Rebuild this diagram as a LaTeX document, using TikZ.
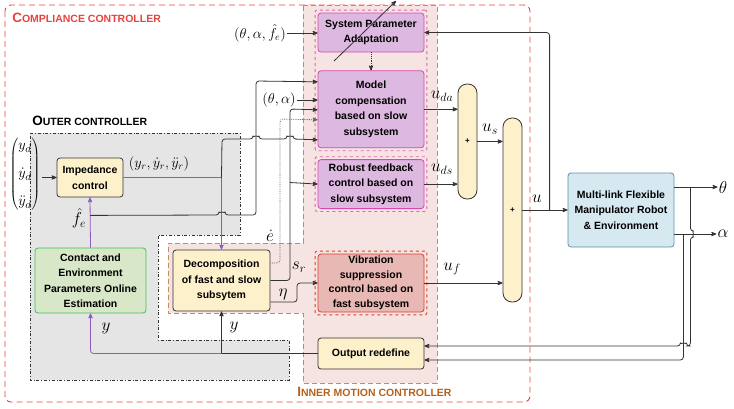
\documentclass[tikz,border=0pt]{standalone}
\usepackage{fontspec}
\setmainfont{Liberation Sans}
\usetikzlibrary{arrows,positioning,calc,fit}

\definecolor{complred}{HTML}{E5433B}
\definecolor{innerbrown}{HTML}{B4621C}
\definecolor{innerdash}{HTML}{C98A5C}
\definecolor{innerfill}{HTML}{F6E4E2}
\definecolor{outerfill}{HTML}{E5E5E5}
\definecolor{slowfill}{HTML}{DDB8E0}
\definecolor{slowline}{HTML}{D64AAE}
\definecolor{fastfill}{HTML}{E8B8B4}
\definecolor{fastline}{HTML}{D9412F}
\definecolor{yelfill}{HTML}{FDF1CC}
\definecolor{estfill}{HTML}{D9E7C9}
\definecolor{estline}{HTML}{3CC35A}
\definecolor{robfill}{HTML}{D6E9F0}
\definecolor{robline}{HTML}{5E8FA5}
\definecolor{sigpurple}{HTML}{8F5BC2}
\definecolor{wire}{HTML}{333333}

\newcommand{\capsname}[2]{{\fontsize{13.5}{13.5}\selectfont #1}{\fontsize{10.5}{10.5}\selectfont #2}}

\begin{document}
\begin{tikzpicture}[>=stealth',x=1pt,y=-1pt,semithick]
\tikzstyle{blk} = [rectangle,rounded corners=3pt,line width=0.8pt,align=center,inner sep=1pt,font=\bfseries\fontsize{10.5}{15.5}\selectfont]
\tikzstyle{slowblk} = [blk,draw=slowline,fill=slowfill,minimum width=106pt]
\tikzstyle{yelblk} = [blk,draw=wire,fill=yelfill]
\tikzstyle{sumblk} = [rectangle,rounded corners=9pt,draw=wire,fill=yelfill,line width=0.8pt,minimum width=19pt,inner sep=0pt,font=\bfseries\fontsize{8}{8}\selectfont]
\tikzstyle{frame} = [dashed,line width=0.9pt,rounded corners=2pt,inner sep=2.5pt]
\tikzstyle{sig} = [inner sep=1pt,font=\fontsize{18}{18}\selectfont]
\tikzstyle{tuple} = [inner sep=1pt,font=\fontsize{14}{14}\selectfont]
\tikzstyle{wireline} = [draw=wire,line width=0.8pt,rounded corners=3pt]
\tikzstyle{title} = [anchor=west,inner sep=0pt,font=\bfseries]

\useasboundingbox (0,0) rectangle (734,408);

% controller areas
\draw[complred,dashed,line width=0.9pt,rounded corners=6pt,dash pattern=on 6pt off 4pt] (5,5) rectangle (530,402);
\draw[innerdash,fill=innerfill,line width=0.8pt,dash pattern=on 5pt off 3pt] (303,5) -- (437,5) -- (437,383) -- (303,383) -- (303,313) -- (168,313) -- (168,243) -- (303,243) -- cycle;
\draw[black!80,fill=outerfill,dash dot,line width=0.8pt] (30,133) -- (240,133) -- (240,235) -- (158,235) -- (158,340) -- (289,340) -- (289,380) -- (30,380) -- cycle;

\node[title,text=complred] (compltitle) at (12,18) {\capsname{C}{OMPLIANCE CONTROLLER}};
\node[title] (outertitle) at (32,121) {\capsname{O}{UTER CONTROLLER}};
\node[title,text=innerbrown] (innertitle) at (297,392) {\capsname{I}{NNER MOTION CONTROLLER}};

% blocks
\node[slowblk,minimum height=39pt] (spa) at (371,32.5) {System Parameter\\Adaptation};
\node[slowblk,minimum height=77pt] (model) [below=18pt of spa] {Model\\compensation\\based on slow\\subsystem};
\node[slowblk,minimum height=49pt] (robust) [below=11pt of model] {Robust feedback\\control based on\\slow subsystem};
\node[blk,draw=fastline,fill=fastfill,minimum width=106pt,minimum height=58pt,font=\bfseries\fontsize{10.5}{14.5}\selectfont] (vib) at (371,283) {Vibration\\suppression\\control based on\\fast subsystem};
\node[yelblk,minimum width=106pt,minimum height=31pt] (outred) at (371,353.5) {Output redefine};
\node[yelblk,minimum width=97pt,minimum height=61pt] (decomp) at (221.5,280.5) {Decomposition\\of fast and slow\\subsytem};
\node[yelblk,minimum width=66pt,minimum height=39pt] (imp) at (90,177.5) {Impedance\\control};
\node[blk,draw=estline,fill=estfill,minimum width=111pt,minimum height=65pt] (est) at (90.5,280.5) {Contact and\\Environment\\Parameters Online\\Estimation};
\node[sumblk,minimum height=115pt] (sum1) at (467.5,141.5) {+};
\node[sumblk,minimum height=184pt] (sum2) at (512.5,210) {+};
\node[blk,draw=robline,fill=robfill,minimum width=106pt,minimum height=74pt] (robot) at (621,210) {Multi-link Flexible\\Manipulator Robot\\\& Environment};

\node[frame,draw=slowline!85,fit=(spa)(model)] (slowframe) {};
\node[frame,draw=slowline!85,fit=(robust)] (robustframe) {};
\node[frame,draw=fastline,fit=(vib)] (fastframe) {};

% signal labels
\node[inner sep=1pt,font=\fontsize{15}{18}\selectfont] (yd) at (25,174) {$\left(\begin{array}{@{}c@{}} y_d\\[10pt] \dot{y}_d\\[10pt] \ddot{y}_d \end{array}\right)$};
\node[tuple] (yr) at (159,164) {$(y_r,\dot{y}_r,\ddot{y}_r)$};
\node[sig] (fe) at (79,218) {$\hat{f}_e$};
\node[tuple] (taf) at (260,33) {$(\theta,\alpha,\hat{f}_e)$};
\node[tuple] (ta) at (279,100) {$(\theta,\alpha)$};
\node[sig] (edot) at (270,236) {$\dot{e}$};
\node[sig] (sr) at (299,267) {$s_r$};
\node[sig] (eta) at (283,294) {$\eta$};
\node[sig] (uda) at (442,96) {$u_{da}$};
\node[sig] (uds) at (442,169) {$u_{ds}$};
\node[sig] (us) at (490,129) {$u_s$};
\node[sig] (uf) at (452,269) {$u_f$};
\node[sig] (u) at (537,199) {$u$};
\node[sig] (ydec) at (234,327) {$y$};
\node[sig] (yest) at (106,328) {$y$};
\node[sig] (th) at (723,187) {$\theta$};
\node[sig] (al) at (723,234) {$\alpha$};

\coordinate (jr) at (decomp.north |- imp.east);
\coordinate (fejoin) at ($(imp.south)+(0,18)$);
\coordinate (srjoin) at (290,182.5);
\coordinate (ujoin) at ($(robot.west)+(-18,0)$);
\coordinate (yjoin) at (decomp.south |- outred.west);
\coordinate (adlo) at (334,61);
\coordinate (adhi) at (396,1);

% outer loop
\draw[->,wireline] (yd.east |- imp.west) -- (imp.west);
\draw[->,wireline,draw=sigpurple] (est.north) -- (imp.south);
\draw[wireline,draw=sigpurple] (imp.east) -- (jr);
\draw[->,wireline,draw=sigpurple] (jr) -- (decomp.north);
\draw[->,wireline] (jr) -- (222,139) -- (253,139) arc (180:360:3) -- (287,139) arc (180:360:3) -- ($(model.west)+(0,30.5)$);
\draw[->,wireline] (fejoin) -- (219,215) arc (180:360:3) -- (256,215) -- (256,81) -- ($(model.west)+(0,-27.5)$);

% inputs of the slow part
\draw[->,wireline] (taf.east) -- (taf.east -| spa.west);
\draw[->,wireline] (ta.east) -- (ta.east -| model.west);
\draw[->,wireline,densely dotted] (spa.south) -- (model.north);
\draw[->,wireline] (adlo) -- (adhi);
\draw[->,wireline] (decomp.east) -- (290,280.5) -- (290,109) -- ($(model.west)+(0,0.5)$);
\draw[->,wireline] (srjoin) -- (robust.west);
\draw[->,wireline,draw=black!60,densely dotted] ($(decomp.east)+(0,-17.5)$) -- (280,263) -- (280,119) -- ($(model.west)+(0,10.5)$);
\draw[->,wireline] ($(decomp.east)+(0,21.5)$) -- (297,302) -- (297,283) -- (vib.west);

% summation and plant
\draw[->,wireline] (model.east) -- (model.east -| sum1.west);
\draw[->,wireline] (robust.east) -- (robust.east -| sum1.west);
\draw[->,wireline] (sum1.east) -- (sum1.east -| sum2.west);
\draw[->,wireline] (vib.east) -- (vib.east -| sum2.west);
\draw[->,wireline] (sum2.east) -- (robot.west);
\draw[->,wireline] (ujoin) -- (ujoin |- spa.east) -- (spa.east);
\draw[->,wireline] ($(robot.east)+(0,-23)$) -- (th.west);
\draw[->,wireline] ($(robot.east)+(0,24)$) -- (al.west);

% feedback
\draw[->,wireline] ($(robot.east)+(16,-23)$) -- ($(robot.east)+(16,21)$) arc (-90:90:3) -- ($(robot.east)+(16,136)$) -- ($(robot.east)+(12,136)$) arc (0:-180:3) -- ($(outred.east)+(0,-7.5)$);
\draw[->,wireline] ($(robot.east)+(9,24)$) -- ($(robot.east)+(9,150)$) -- ($(outred.east)+(0,6.5)$);
\draw[wireline] (outred.west) -- (yjoin);
\draw[->,wireline] (yjoin) -- (decomp.south);
\draw[->,wireline,draw=sigpurple] (yjoin) -- (yjoin -| est.south) -- (est.south);

\end{tikzpicture}
\end{document}
